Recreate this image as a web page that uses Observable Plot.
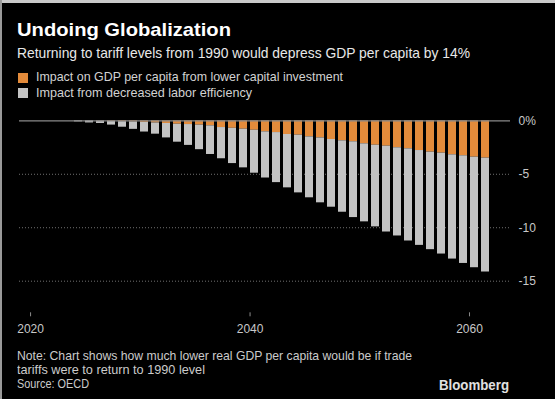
<!DOCTYPE html>
<html><head><meta charset="utf-8">
<script src="https://cdn.jsdelivr.net/npm/d3@7"></script>
<script src="https://cdn.jsdelivr.net/npm/@observablehq/plot@0.6"></script>
<style>
html,body{margin:0;padding:0;background:#000;}
#wrap{position:relative;width:555px;height:399px;background:#000;overflow:hidden;font-family:"Liberation Sans",Arial,sans-serif;}
.t{position:absolute;white-space:nowrap;line-height:1;transform-origin:0 0;}
.sw{position:absolute;width:10px;height:10px;}
.plot{position:absolute;left:0;}
</style></head>
<body>
<div id="wrap">
  <div style="position:absolute;left:0;top:0;width:555px;height:3px;background:#c9c9c9"></div>
  <div style="position:absolute;left:0;top:0;width:2px;height:399px;background:#9a9a9a"></div>
  <div class="t" data-w="214" style="left:17px;top:20px;font-size:19px;font-weight:bold;color:#fff">Undoing Globalization</div>
  <div class="t" data-w="453" style="left:17px;top:44.6px;font-size:15px;color:#e8e8e8">Returning to tariff levels from 1990 would depress GDP per capita by 14%</div>
  <div class="sw" id="sw1" style="left:18px;top:73px"></div>
  <div class="t" id="lg1" data-w="307" style="left:36px;top:70px;font-size:13px;color:#d2d2d2"></div>
  <div class="sw" id="sw2" style="left:18px;top:88.3px"></div>
  <div class="t" id="lg2" data-w="216" style="left:36px;top:85.7px;font-size:13px;color:#d2d2d2"></div>
  <div class="plot" id="main" style="top:110px"></div>
  <div class="plot" id="xax" style="top:300px"></div>
  <div class="t" data-w="395" style="left:17px;top:349px;font-size:13px;color:#cbcbcb">Note: Chart shows how much lower real GDP per capita would be if trade</div>
  <div class="t" data-w="188" style="left:17px;top:363.3px;font-size:13px;color:#cbcbcb">tariffs were to return to 1990 level</div>
  <div class="t" data-w="72" style="left:17px;top:377.3px;font-size:13px;color:#cbcbcb">Source: OECD</div>
  <div class="t" data-w="70" style="left:439px;top:378.2px;font-size:14px;font-weight:bold;color:#e0e0e0">Bloomberg</div>
</div>
<script>
const years = [2020,2021,2022,2023,2024,2025,2026,2027,2028,2029,2030,2031,2032,2033,2034,2035,2036,2037,2038,2039,2040,
  2041,2042,2043,2044,2045,2046,2047,2048,2049,2050,2051,2052,2053,2054,2055,2056,2057,2058,2059,2060];
const capital = [0,0,0,0,0,-0.02,-0.05,-0.08,-0.1,-0.15,-0.2,-0.25,-0.32,-0.35,-0.4,-0.47,-0.63,-0.7,-0.78,-0.88,-1.03,
  -1.1,-1.28,-1.34,-1.5,-1.6,-1.75,-1.87,-1.96,-2.15,-2.28,-2.37,-2.52,-2.62,-2.78,-2.93,-3.02,-3.18,-3.27,-3.4,-3.49];
const labor = [0,0,0,-0.1,-0.2,-0.23,-0.35,-0.52,-0.7,-0.9,-1.05,-1.35,-1.68,-1.95,-2.3,-2.68,-2.92,-3.3,-3.62,-4.02,-4.32,
  -4.68,-4.99,-5.4,-5.7,-6.07,-6.33,-6.68,-7.09,-7.3,-7.64,-8.03,-8.25,-8.62,-8.87,-9.12,-9.44,-9.75,-10.07,-10.34,-10.65];
const seriesNames = ["Impact on GDP per capita from lower capital investment", "Impact from decreased labor efficiency"];
const seriesColors = ["#e38b3b", "#c3c3c3"];
const yTicks = [0, -5, -10, -15];
const gridTicks = [-5, -10, -15];
const xTicks = [2020, 2040, 2060];

const table = years.flatMap((yr, i) => [
  {year: yr, series: seriesNames[0], value: capital[i]},
  {year: yr, series: seriesNames[1], value: labor[i]}
]);

document.getElementById("sw1").style.background = seriesColors[0];
document.getElementById("sw2").style.background = seriesColors[1];
document.getElementById("lg1").textContent = seriesNames[0];
document.getElementById("lg2").textContent = seriesNames[1];

const main = Plot.plot({
  width: 555, height: 180,
  marginTop: 10.3, marginBottom: 9.3, marginLeft: 19, marginRight: 45,
  style: {background: "transparent", color: "#c8c8c8", fontFamily: "Liberation Sans, Arial, sans-serif", fontSize: "12px"},
  x: {type: "band", domain: years, paddingInner: 0.276, paddingOuter: 1.04, axis: null},
  y: {domain: [-15, 0], axis: null},
  color: {domain: seriesNames, range: seriesColors},
  marks: [
    Plot.ruleY(gridTicks, {stroke: "#707070", strokeDasharray: "1,2", strokeWidth: 1}),
    Plot.barY(table, Plot.stackY({x: "year", y: "value", fill: "series", order: null})),
    Plot.ruleY([0], {stroke: "#8a8a8a", strokeWidth: 1.3}),
    Plot.axisY({anchor: "right", ticks: yTicks, tickSize: 0, tickPadding: 8,
      tickFormat: d => d === 0 ? "0%" : String(d), fill: "#c8c8c8", fontSize: 12, label: null})
  ]
});
document.getElementById("main").appendChild(main);

const xax = Plot.plot({
  width: 555, height: 40,
  marginTop: 0, marginBottom: 27.7, marginLeft: 18, marginRight: 75,
  style: {background: "transparent", color: "#8a8a8a", fontFamily: "Liberation Sans, Arial, sans-serif", fontSize: "12px"},
  x: {domain: [2018.9, 2061]},
  marks: [
    Plot.axisX({ticks: xTicks, tickFormat: d => String(d), tickSize: 4, tickPadding: 8, line: true,
      stroke: "#8a8a8a", fill: "#c8c8c8", fontSize: 12, label: null})
  ]
});
document.getElementById("xax").appendChild(xax);

document.querySelectorAll(".t[data-w]").forEach(el => {
  const w = el.getBoundingClientRect().width;
  const target = +el.dataset.w;
  if (w > 0) el.style.transform = `scaleX(${target / w})`;
});
</script>
</body></html>
